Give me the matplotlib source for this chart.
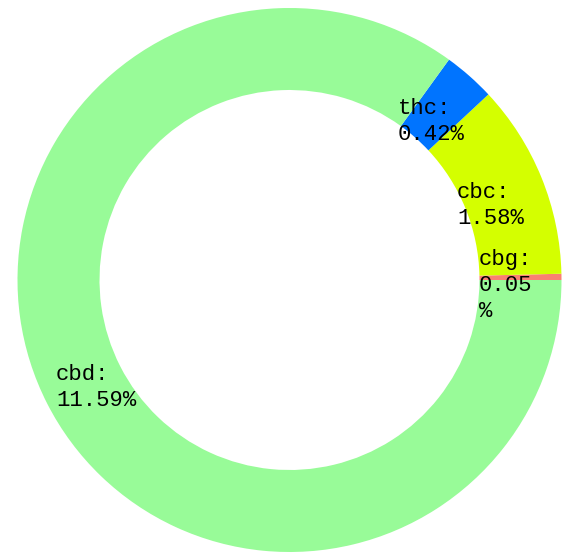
import matplotlib
matplotlib.use("Agg")
import matplotlib.pyplot as plt

names = ["cbg", "cbc", "thc", "cbd"]
values = [0.05, 1.58, 0.42, 11.59]
colors = ["#fa8072", "#d4ff00", "#0074ff", "#98fb98"]
labels = ["cbg:\n0.05\n%", "cbc:\n1.58%", "thc:\n0.42%", "cbd:\n11.59%"]
label_pos = [(479, 249), (457, 182), (398, 98), (56, 364)]


def main():
    fig = plt.figure(figsize=(5.65, 5.55), dpi=100)
    ax = fig.add_axes([0, 0, 1, 1])
    ax.pie(values, colors=colors, center=(289.5, 280), radius=272,
           startangle=0, counterclock=False,
           wedgeprops=dict(width=82, linewidth=0))
    ax.set_xlim(0, 565)
    ax.set_ylim(555, 0)
    ax.set_aspect("equal")
    ax.axis("off")

    for text, (x, y) in zip(labels, label_pos):
        ax.text(x, y, text, ha="left", va="top", fontsize=16,
                family="Liberation Mono", color="black", linespacing=1.3)

    fig.savefig("out.png", dpi=100, facecolor="white")


if __name__ == '__main__':
    main()
